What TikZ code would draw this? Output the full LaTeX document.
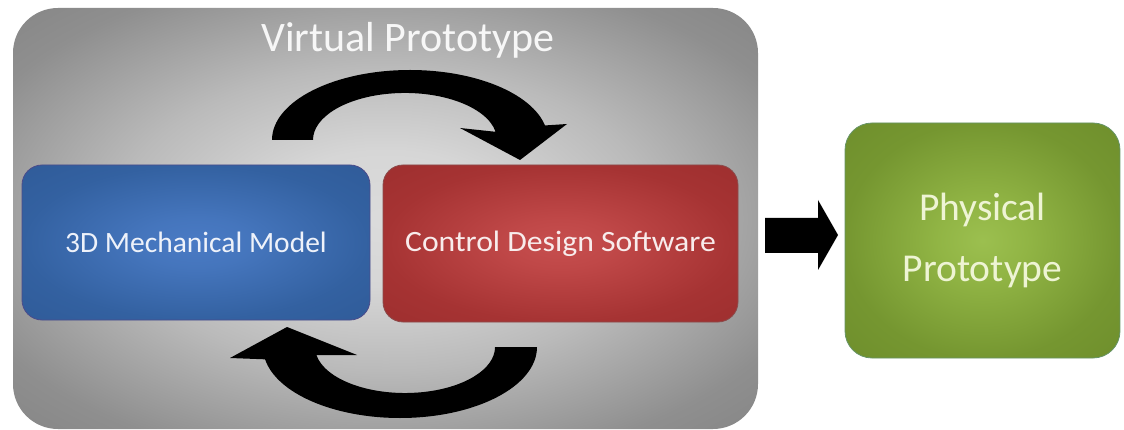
\documentclass[tikz,border=0pt]{standalone}
\usepackage{fontspec}
\setmainfont{Carlito}
\pgfdeclareradialshading{grayshade}{\pgfpoint{0bp}{0bp}}{rgb(0bp)=(0.86,0.86,0.86); rgb(8bp)=(0.84,0.84,0.84); rgb(18bp)=(0.73,0.73,0.73); rgb(30bp)=(0.56,0.56,0.56); rgb(40bp)=(0.50,0.50,0.50); rgb(50bp)=(0.48,0.48,0.48)}
\pgfdeclareradialshading{blueshade}{\pgfpoint{0bp}{0bp}}{rgb(0bp)=(0.29,0.48,0.77); rgb(8bp)=(0.27,0.46,0.74); rgb(25bp)=(0.20,0.38,0.63); rgb(50bp)=(0.17,0.33,0.56)}
\pgfdeclareradialshading{redshade}{\pgfpoint{0bp}{0bp}}{rgb(0bp)=(0.78,0.31,0.31); rgb(8bp)=(0.75,0.28,0.28); rgb(25bp)=(0.65,0.20,0.20); rgb(50bp)=(0.58,0.16,0.16)}
\pgfdeclareradialshading{greenshade}{\pgfpoint{0bp}{0bp}}{rgb(0bp)=(0.61,0.75,0.31); rgb(8bp)=(0.57,0.71,0.27); rgb(25bp)=(0.46,0.59,0.19); rgb(50bp)=(0.40,0.52,0.15)}
\definecolor{boxtext}{RGB}{238,242,250}
\definecolor{redtext}{RGB}{248,236,236}
\definecolor{greentext}{RGB}{238,244,212}
\begin{document}
\begin{tikzpicture}[x=1pt,y=-1pt,
  panel/.style={shade, rounded corners=#1, inner sep=0pt},
  arrowfill/.style={fill=black}]
\useasboundingbox (0,0) rectangle (1124,430);
\fill[white] (0,0) rectangle (1124,430);
% virtual prototype panel
\node[panel=45pt, shading=grayshade, minimum width=745pt, minimum height=421pt] (vp) at (385.5,218.5) {};
\node[text=white!94!gray, font=\fontsize{42}{42}\selectfont, anchor=base] (vptitle) at (408,52) {Virtual Prototype};
% inner boxes
\node[panel=20pt, shading=blueshade, draw=blue!35!black!70, line width=0.8pt, minimum width=348pt, minimum height=155pt,
      text=boxtext, font=\fontsize{29.5}{30}\selectfont] (mech) at (196,242.5) {3D Mechanical Model};
\node[panel=20pt, shading=redshade, draw=red!35!black!70, line width=0.8pt, minimum width=355pt, minimum height=157pt,
      text=redtext, font=\fontsize{29.5}{30}\selectfont] (ctrl) at (560.5,243.5) {\scalebox{1.075}[1]{Control Design Software}};
% physical prototype
\node[panel=27pt, shading=greenshade, draw=green!30!black!60, line width=0.8pt, minimum width=275pt, minimum height=235pt,
      text=greentext, align=center, font=\fontsize{39.5}{61}\selectfont] (phys) at (982.5,240.5) {Physical\\Prototype};
% curved arrow on top (mech -> ctrl)
\fill[arrowfill] (272,140) arc[start angle=180, end angle=348, x radius=138, y radius=70]
  -- (567,124) -- (520,160) -- (460,128) -- (495.6,131.8)
  arc[start angle=350, end angle=180, x radius=92, y radius=47] -- cycle;
% curved arrow at bottom (ctrl -> mech)
\fill[arrowfill] (537,347) arc[start angle=0, end angle=170, x radius=137, y radius=71]
  -- (230,358) -- (287,327) -- (357,355) -- (316.4,355.0)
  arc[start angle=170, end angle=0, x radius=90, y radius=46] -- cycle;
% block arrow vp -> phys
\fill[arrowfill] (765,218) -- (818,218) -- (818,200) -- (838,235) -- (818,270) -- (818,253) -- (765,253) -- cycle;
\end{tikzpicture}
\end{document}
